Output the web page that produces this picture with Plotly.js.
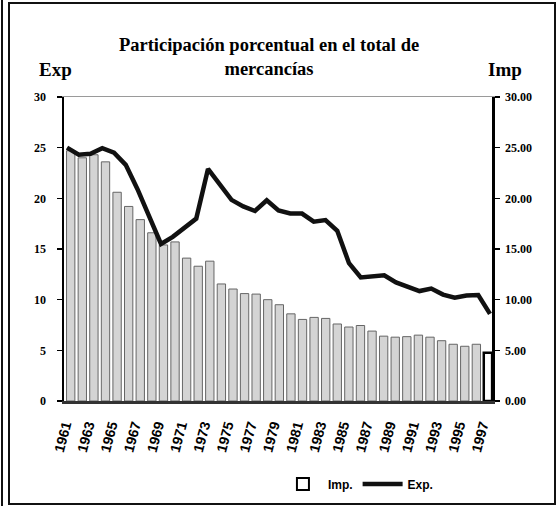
<!DOCTYPE html>
<html>
<head>
<meta charset="utf-8">
<script src="https://cdn.plot.ly/plotly-3.0.1.min.js"></script>
<style>
  html, body { margin: 0; padding: 0; background: #fff; }
  #wrap { position: relative; width: 557px; height: 506px; overflow: hidden; }
  #chart { position: absolute; left: 0; top: 0; width: 557px; height: 506px; }
  .frame { position: absolute; border: 0 solid #111; pointer-events: none; }
</style>
</head>
<body>
<div id="wrap">
  <div id="chart"></div>
  <div class="frame" style="left:1px;top:0;width:0;height:506px;border-left-width:2px;"></div>
  <div class="frame" style="left:8px;top:2px;width:544px;height:499px;border-width:2px;"></div>
</div>
<script>
// ---- data ----
const years = [1961,1962,1963,1964,1965,1966,1967,1968,1969,1970,
               1971,1972,1973,1974,1975,1976,1977,1978,1979,1980,
               1981,1982,1983,1984,1985,1986,1987,1988,1989,1990,
               1991,1992,1993,1994,1995,1996,1997];
// Imp. (% share, bars)
const impValues = [24.7,24.0,24.3,23.6,20.6,19.2,17.9,16.6,15.4,15.7,
                   14.1,13.3,13.8,11.55,11.05,10.6,10.55,10.0,9.5,8.6,
                   8.05,8.25,8.15,7.6,7.3,7.45,6.9,6.4,6.3,6.35,
                   6.5,6.3,5.95,5.6,5.4,5.6,4.75];
// Exp. (% share, line)
const expValues = [25.0,24.3,24.4,24.95,24.5,23.3,20.9,18.3,15.5,16.2,
                   17.05,18.0,22.9,21.3,19.85,19.2,18.75,19.8,18.8,18.5,
                   18.5,17.7,17.85,16.8,13.6,12.2,12.35,12.4,11.7,11.25,
                   10.85,11.1,10.5,10.2,10.4,10.45,8.6];
const tickYears = [1961,1963,1965,1967,1969,1971,1973,1975,1977,1979,
                   1981,1983,1985,1987,1989,1991,1993,1995,1997];
const tickLabels = tickYears.map(String);
const leftTicks = [0,5,10,15,20,25,30];
const rightTicks = [0,5,10,15,20,25,30];
const rightTickLabels = rightTicks.map(v => v.toFixed(2));

const serif = 'Liberation Serif, Times New Roman, serif';
const sans = 'Liberation Sans Narrow, Liberation Sans, Arial, sans-serif';

const last = impValues.length - 1;
const barFill = impValues.map((v, i) => i === last ? '#ffffff' : '#d4d4d4');
const barLine = impValues.map((v, i) => i === last ? '#000000' : '#666666');
const barLineW = impValues.map((v, i) => i === last ? 2.5 : 1);

const traces = [
  {
    type: 'bar', name: 'Imp.', x: years, y: impValues,
    xaxis: 'x', yaxis: 'y', width: 0.72,
    marker: { color: barFill, line: { color: barLine, width: barLineW } },
    showlegend: false
  },
  {
    type: 'bar', name: 'Imp.', x: [null], y: [null],
    xaxis: 'x', yaxis: 'y',
    marker: { color: '#ffffff', line: { color: '#000', width: 2 } },
    showlegend: true, legendrank: 1
  },
  {
    type: 'scatter', mode: 'lines', name: 'Exp.', x: years, y: expValues,
    xaxis: 'x2', yaxis: 'y2',
    line: { color: '#111', width: 4.5 },
    legendrank: 2
  }
];

const layout = {
  width: 557, height: 506,
  margin: { l: 64, r: 65, t: 97, b: 105, pad: 0 },
  paper_bgcolor: '#ffffff',
  plot_bgcolor: '#ffffff',
  barmode: 'overlay',
  title: {
    text: '<b>Participación porcentual en el total de<br>mercancías</b>',
    font: { family: serif, size: 18.5, color: '#000' },
    xref: 'container', x: 0.483, xanchor: 'center',
    yref: 'container', y: 0.90, yanchor: 'top'
  },
  xaxis: {
    type: 'linear', range: [1960.42, 1997.35],
    tickmode: 'array', tickvals: tickYears, ticktext: tickLabels,
    tickangle: -75, tickfont: { family: sans, size: 14, color: '#000', weight: 'bold' },
    ticklabelstandoff: 8, ticklabelshift: -6,
    showline: true, linecolor: '#333', linewidth: 2.5,
    ticks: '', showgrid: false, zeroline: false, automargin: false
  },
  xaxis2: {
    overlaying: 'x', side: 'top', anchor: 'y2',
    range: [1960.745, 1997.17],
    showticklabels: false, ticks: '',
    showline: true, linecolor: '#9a9a9a', linewidth: 1.5,
    showgrid: false, zeroline: false
  },
  yaxis: {
    range: [0, 30], tickmode: 'array', tickvals: leftTicks,
    ticks: 'outside', ticklen: 5, tickwidth: 1.5, tickcolor: '#000',
    ticklabelstandoff: 8,
    tickfont: { family: serif, size: 12, color: '#000', weight: 'bold' },
    showline: true, linecolor: '#000', linewidth: 2.5,
    showgrid: false, zeroline: false, automargin: false
  },
  yaxis2: {
    overlaying: 'y', side: 'right', anchor: 'x2',
    range: [0, 30], tickmode: 'array', tickvals: rightTicks, ticktext: rightTickLabels,
    ticks: 'outside', ticklen: 5, tickwidth: 1.5, tickcolor: '#000',
    ticklabelstandoff: 3,
    tickfont: { family: serif, size: 12, color: '#000', weight: 'bold' },
    showline: true, linecolor: '#000', linewidth: 2.5,
    showgrid: false, zeroline: false, automargin: false
  },
  legend: {
    orientation: 'h',
    xref: 'container', x: 0.499, xanchor: 'left',
    yref: 'container', y: 0.0435, yanchor: 'middle',
    font: { family: sans, size: 12, color: '#000', weight: 'bold' },
    bgcolor: 'rgba(0,0,0,0)', itemwidth: 40, tracegroupgap: 0
  },
  annotations: [
    { text: '<b>Exp</b>', xref: 'paper', yref: 'paper', x: -0.019, y: 1.092,
      xanchor: 'center', yanchor: 'middle', showarrow: false,
      font: { family: serif, size: 19, color: '#000' } },
    { text: '<b>Imp</b>', xref: 'paper', yref: 'paper', x: 1.03, y: 1.092,
      xanchor: 'center', yanchor: 'middle', showarrow: false,
      font: { family: serif, size: 19, color: '#000' } }
  ],
  showlegend: true
};

Plotly.newPlot('chart', traces, layout, { staticPlot: true, displayModeBar: false });
</script>
</body>
</html>
